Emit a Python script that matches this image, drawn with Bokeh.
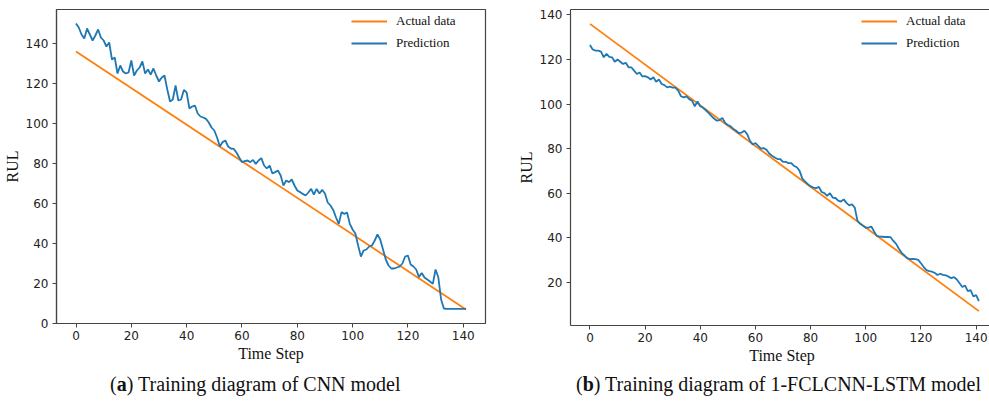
from bokeh.plotting import figure
from bokeh.models import Range1d, FixedTicker, Legend, LegendItem, LinearAxis, Div
from bokeh.layouts import row, column
from bokeh.embed import file_html
from bokeh.resources import INLINE

# ---------------- data ----------------
steps = list(range(142))

actual_steps = [0, 141]
actual_rul = [136, 7]

cnn_pred = [
    150, 148, 144.5, 142.5, 147.5, 144.5, 141.5, 144, 147, 143,
    141.5, 138.5, 140.5, 132, 133, 125, 129, 126, 125, 125.5,
    131.5, 124, 126.5, 128, 131, 125, 127, 124.5, 127.5, 124,
    121, 123, 124, 117, 111, 112, 119, 111.5, 112, 116.8,
    115.5, 107.5, 108.5, 109, 105, 103.5, 103, 102.3, 100.5, 98,
    96.5, 93, 88.5, 90.7, 91.5, 88.5, 87.5, 87.3, 85.5, 83,
    80.7, 81.2, 81.5, 80.7, 81.8, 79.8, 81.5, 82.7, 79, 77.5,
    79, 75, 75.7, 76.5, 74, 69, 71.5, 70.7, 72, 69,
    66.5, 65.7, 64.8, 64, 65.5, 67.3, 64.5, 67.3, 65, 66.8,
    65, 60.5, 59, 56.8, 53, 49.8, 55.7, 54.8, 55.5, 49.8,
    47, 45, 39, 33.5, 36.5, 37, 38.5, 39, 41.5, 44.5,
    42, 37, 32, 29, 27.5, 27.5, 28, 28.5, 30, 33.5,
    34, 29.5, 28.5, 27, 23.2, 25.2, 23, 22, 21, 19.8,
    27, 23, 12, 7.5, 7.3, 7.3, 7.3, 7.3, 7.3, 7.3,
    7.3, 7.3,
]

lstm_pred = [
    126.5, 124.5, 124, 124, 123.5, 121, 122.5, 121.2, 121, 119,
    120, 119, 118, 118.5, 116.5, 116.5, 115, 113.5, 114.2, 112.4,
    112.5, 112, 111, 112, 110, 111, 109, 108.5, 107.5, 107.8,
    107.4, 107.4, 106, 103.5, 103, 103.4, 102.2, 101.5, 99, 101.2,
    99, 98.3, 97.2, 96, 94.7, 93.5, 92.5, 92.8, 93.8, 91.5,
    90.6, 90, 88.8, 88, 86.9, 87.2, 88, 86.5, 83.5, 81.8,
    82.5, 81.2, 80, 80.2, 79.5, 77.8, 76.8, 76, 75.3, 75.3,
    74, 74, 73.5, 73.5, 72.2, 71.6, 70, 66.5, 65.2, 64,
    63, 62.5, 62.2, 62.8, 60.5, 60, 58.8, 60, 58, 57.8,
    56.6, 56.2, 57.2, 55.6, 54.5, 55, 53.5, 47.5, 46.2, 45.3,
    44.5, 44.5, 45, 42.8, 40.8, 40.5, 40.4, 40.3, 40.3, 40.2,
    38.5, 37.2, 35, 33.2, 32, 30.8, 30.4, 30.5, 30.4, 30,
    28.5, 26.8, 25.4, 25, 24.7, 24.2, 23.2, 23.8, 23.3, 23.1,
    22.5, 21.8, 22.3, 21.2, 19.5, 17.8, 18.5, 16, 16.4, 13.6,
    14.2, 11.5,
]

x_ticks = [0, 20, 40, 60, 80, 100, 120, 140]
y_ticks_a = [0, 20, 40, 60, 80, 100, 120, 140]
y_ticks_b = [20, 40, 60, 80, 100, 120, 140]

legend_labels = ["Actual data", "Prediction"]
captions = ['(<b>a</b>) Training diagram of CNN model',
            '(<b>b</b>) Training diagram of 1-FCLCNN-LSTM model']

ORANGE = "#ff7f0e"
BLUE = "#1f77b4"
AXIS = "#444444"
SERIF = "Liberation Serif"


def make_panel(pred, y_ticks, x_end, y_range, borders, frame, legend_loc, full_box):
    left, right, top, bottom = borders
    fw, fh = frame
    p = figure(frame_width=fw, frame_height=fh,
               x_range=Range1d(-7.05, x_end), y_range=Range1d(*y_range),
               output_backend="svg", toolbar_location=None,
               min_border_left=left, min_border_right=right,
               min_border_top=top, min_border_bottom=bottom,
               background_fill_color="white", border_fill_color="white")
    p.grid.visible = False

    r_act = p.line(actual_steps, actual_rul, line_color=ORANGE, line_width=1.8)
    r_pred = p.line(steps, pred, line_color=BLUE, line_width=1.8)

    xax = p.below[0]
    yax = p.left[0]
    for ax, ticks in ((xax, x_ticks), (yax, y_ticks)):
        ax.ticker = FixedTicker(ticks=ticks)
        ax.minor_tick_line_color = None
        ax.major_tick_in = 0
        ax.major_tick_out = 4
        ax.axis_line_color = AXIS
        ax.axis_line_width = 1.2
        ax.major_tick_line_color = AXIS
        ax.major_label_text_font = "DejaVu Sans"
        ax.major_label_text_font_size = "12px"
        ax.major_label_text_color = "#222222"
        ax.axis_label_text_font = SERIF
        ax.axis_label_text_font_size = "16px"
        ax.axis_label_text_font_style = "normal"
        ax.axis_label_text_color = "#111111"
    xax.axis_label = "Time Step"
    xax.major_label_standoff = 3
    xax.axis_label_standoff = 2
    yax.axis_label = "RUL"
    yax.major_label_standoff = 4
    yax.axis_label_standoff = 2

    if full_box:
        p.outline_line_color = AXIS
        p.outline_line_width = 1.2
    else:
        p.outline_line_color = None
        top_ax = LinearAxis(ticker=FixedTicker(ticks=[]), axis_line_color=AXIS,
                            axis_line_width=1.2, major_tick_out=0, major_tick_in=0,
                            minor_tick_out=0, minor_tick_in=0, major_label_standoff=0,
                            minor_tick_line_color=None, major_tick_line_color=None)
        p.add_layout(top_ax, "above")

    leg = Legend(items=[LegendItem(label=legend_labels[0], renderers=[r_act]),
                        LegendItem(label=legend_labels[1], renderers=[r_pred])],
                 location=legend_loc, padding=0, margin=0, spacing=4,
                 glyph_width=36, glyph_height=18, label_height=18,
                 label_standoff=9, label_text_font=SERIF,
                 label_text_font_size="13px", label_text_color="#111111",
                 border_line_color=None, background_fill_alpha=0)
    p.add_layout(leg, "center")
    return p


p1 = make_panel(cnn_pred, y_ticks_a, 148.05, (0, 157), (52, 14, 9, 42), (429, 314),
                (295, 271), True)
p2 = make_panel(lstm_pred, y_ticks_b, 146.3, (0.55, 142.45), (71, 0, 8, 41), (423, 316),
                (291, 273), False)

cap_style = {"font-family": SERIF, "font-size": "20px", "color": "#111111",
             "text-align": "left", "line-height": "22px", "white-space": "nowrap",
             "box-sizing": "border-box", "padding-top": "3px"}
d1 = Div(text=captions[0], width=495, height=40,
         styles=dict(cap_style, **{"padding-left": "105px"}))
d2 = Div(text=captions[1], width=494, height=40,
         styles=dict(cap_style, **{"padding-left": "66px"}))

layout = column(row(p1, p2), row(d1, d2))

with open("out.html", "w") as f:
    f.write(file_html(layout, INLINE))
